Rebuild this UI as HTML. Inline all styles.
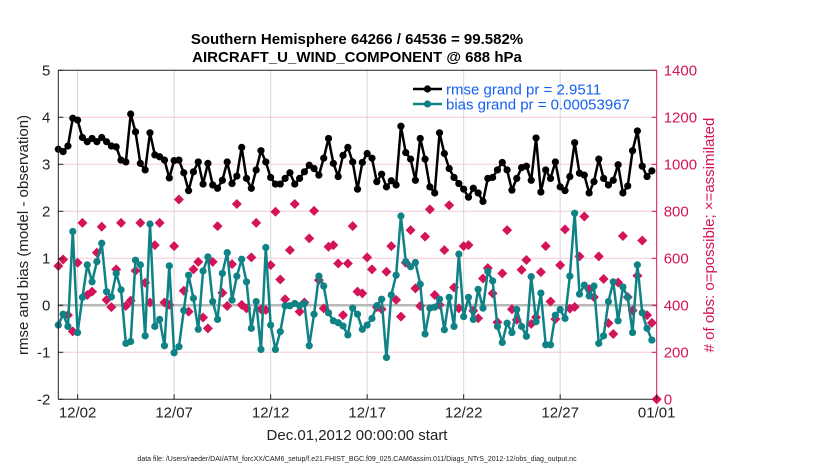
<!DOCTYPE html>
<html><head><meta charset="utf-8"><style>
body{margin:0;background:#fff;width:830px;height:470px;overflow:hidden;font-family:"Liberation Sans",Arial,sans-serif}
svg{display:block}
</style></head><body>
<svg id="chart" width="830" height="470" viewBox="0 0 830 470" xmlns="http://www.w3.org/2000/svg"></svg>
<script>
const rmse=[3.32,3.27,3.39,3.98,3.94,3.57,3.48,3.55,3.48,3.57,3.48,3.39,3.37,3.09,3.05,4.07,3.69,3.02,2.88,3.67,3.2,3.16,3.09,2.71,3.08,3.09,2.82,2.44,2.84,3.05,2.58,3.02,
2.56,2.49,2.66,3.05,2.59,2.75,3.36,2.70,2.49,2.88,3.29,3.05,2.72,2.58,2.58,2.70,2.82,2.58,2.70,2.84,2.98,2.91,2.77,3.13,3.55,3.02,2.74,3.19,3.36,3.05,2.47,
3.04,3.23,3.13,2.63,2.79,2.52,2.65,2.56,3.81,3.25,3.11,2.66,3.55,3.11,2.52,2.39,3.67,3.23,2.91,2.72,2.59,2.47,2.30,2.49,2.39,2.21,2.70,2.72,2.88,3.04,2.88,
2.45,2.70,2.93,2.96,2.66,3.56,2.41,2.88,2.70,3.05,2.52,2.44,2.74,3.46,2.81,2.77,2.39,2.63,3.11,2.70,2.56,2.66,2.99,2.39,2.54,3.29,3.71,2.96,2.74,2.86];
const bias=[-0.42,-0.19,-0.45,1.57,-0.58,0.17,0.86,0.50,0.93,1.32,0.29,0.18,0.68,0.33,-0.81,-0.77,0.96,0.86,-0.65,1.73,-0.45,-0.30,-0.86,0.84,-1.01,-0.88,-0.11,0.64,0.15,-0.51,0.73,1.03,
0.08,-0.30,0.68,1.12,0.11,0.62,0.98,0.50,-0.49,0.08,-0.94,1.23,-0.42,-0.94,-0.56,-0.01,-0.01,0.04,-0.01,0.04,-0.86,-0.19,0.62,0.41,-0.16,-0.33,-0.37,-0.44,-0.63,-0.06,-0.19,
-0.51,-0.42,-0.28,-0.01,0.13,-1.11,0.22,0.64,1.90,0.93,0.82,0.91,0.45,-0.61,-0.06,-0.04,0.13,-0.52,0.17,-0.45,1.09,-0.24,0.17,-0.30,0.34,-0.06,0.72,0.52,-0.45,-0.79,-0.38,
-0.58,-0.09,-0.45,-0.66,0.61,-0.35,0.26,-0.84,-0.84,-0.21,-0.09,-0.28,0.62,1.96,0.24,0.43,0.20,0.41,-0.81,-0.65,0.08,0.50,-0.33,0.39,0.17,-0.58,0.86,-0.16,-0.49,-0.74];
const nobs=[567,595,358,289,581,751,444,458,624,734,423,392,553,751,397,420,547,751,496,412,656,751,412,402,652,850,462,373,553,585,348,302,
585,737,453,397,575,831,402,387,604,751,383,380,571,798,510,426,635,831,373,412,685,802,507,387,649,656,578,358,578,737,458,
451,604,553,392,383,543,652,423,352,581,720,472,397,692,808,444,402,635,826,476,387,652,656,377,345,514,558,451,328,536,720,
383,338,551,593,321,349,541,652,416,341,571,723,386,393,608,778,469,435,608,512,324,278,497,695,435,378,526,676,358,325,0];
const xTickLabels=["12/02","12/07","12/12","12/17","12/22","12/27","01/01"];
const xTickDays=[1,6,11,16,21,26,31];
const yTicks=[-2,-1,0,1,2,3,4,5];
const y2Ticks=[0,200,400,600,800,1000,1200,1400];

const NS="http://www.w3.org/2000/svg";
const svg=document.getElementById('chart');
const L=58.3,R=656.7,T=70.3,B=399.3;
const xDay=d=>L+d*(R-L)/31;
const xIdx=i=>xDay(i*0.25);
const yL=v=>B-(v+2)*(B-T)/7;
const yR=v=>B-v*(B-T)/1400;
function el(tag,attrs,parent){const e=document.createElementNS(NS,tag);for(const k in attrs)e.setAttribute(k,attrs[k]);(parent||svg).appendChild(e);return e;}
const CR="#d4145a",TEAL="#0f8285",BLUE="#1560f0";

// grid
const grid=el('g',{});


yTicks.forEach(v=>{if(v>-2&&v<5&&v!==0)el('line',{x1:L,x2:R,y1:yL(v),y2:yL(v),stroke:"#f3c8d8","stroke-width":1},grid);});
xTickDays.forEach(d=>{if(d<31)el('line',{x1:xDay(d),x2:xDay(d),y1:T,y2:B,stroke:"#d8d8d8","stroke-width":1},grid);});
const zl=el('line',{x1:L,x2:R,y1:yL(0),y2:yL(0),stroke:"#b8b8b8","stroke-width":2.5});



// obs markers
const og=el('g',{fill:CR});


nobs.forEach((v,i)=>{const x=xIdx(i),y=yR(v);
 const m=el('path',{d:`M${x} ${y-5}L${x+5} ${y}L${x} ${y+5}L${x-5} ${y}Z`},og);
 
 
});

function series(arr,color,name){
 const g=el('g',{});
 
 
 el('polyline',{points:arr.map((v,i)=>xIdx(i)+","+yL(v)).join(" "),fill:"none",stroke:color,"stroke-width":2.5,"stroke-linejoin":"round"},g);
 arr.forEach((v,i)=>{const c=el('circle',{cx:xIdx(i),cy:yL(v),r:3.6,fill:color},g);
  
  });
}
series(bias,TEAL,'bias-series');
series(rmse,"#000",'rmse-series');

// axes
const ax=el('g',{});


el('line',{x1:L,x2:L,y1:T,y2:B,stroke:"#222","stroke-width":1},ax);
el('line',{x1:L,x2:R,y1:T,y2:T,stroke:"#222","stroke-width":1},ax);
el('line',{x1:L,x2:R,y1:B,y2:B,stroke:"#222","stroke-width":1},ax);
el('line',{x1:R,x2:R,y1:T,y2:B,stroke:CR,"stroke-width":1},ax);
yTicks.forEach(v=>{el('line',{x1:L,x2:L+5,y1:yL(v),y2:yL(v),stroke:"#222"},ax);
 const t=el('text',{x:L-8,y:yL(v)+5,"text-anchor":"end","font-size":15,fill:"#222"},ax);t.textContent=v;
 
 });
y2Ticks.forEach(v=>{el('line',{x1:R-5,x2:R,y1:yR(v),y2:yR(v),stroke:CR},ax);
 const t=el('text',{x:R+7,y:yR(v)+5,"font-size":15,fill:CR},ax);t.textContent=v;
 
 });
xTickDays.forEach((d,k)=>{el('line',{x1:xDay(d),x2:xDay(d),y1:B,y2:B-5,stroke:"#222"},ax);
 const t=el('text',{x:xDay(d),y:B+18,"text-anchor":"middle","font-size":15,fill:"#222"},ax);t.textContent=xTickLabels[k];
 
 });
</script>
<svg style="position:absolute;left:0;top:0" width="830" height="470" xmlns="http://www.w3.org/2000/svg" font-family="Liberation Sans, Arial, sans-serif">
 <text x="357" y="44" text-anchor="middle" font-size="15" font-weight="bold">Southern Hemisphere 64266 / 64536 = 99.582%</text>
 <text x="357" y="62" text-anchor="middle" font-size="15" font-weight="bold">AIRCRAFT_U_WIND_COMPONENT @ 688 hPa</text>
 <g>
  <g><line x1="413" x2="442" y1="89" y2="89" stroke="#000" stroke-width="2.5"/><circle cx="427.5" cy="89" r="3.6"/><text x="446" y="94.5" font-size="15" fill="#1560f0">rmse grand pr = 2.9511</text></g>
  <g><line x1="413" x2="442" y1="104" y2="104" stroke="#0f8285" stroke-width="2.5"/><circle cx="427.5" cy="104" r="3.6" fill="#0f8285"/><text x="446" y="109.5" font-size="15" fill="#1560f0">bias grand pr = 0.00053967</text></g>
 </g>
 <text x="357" y="440" text-anchor="middle" font-size="15" fill="#222">Dec.01,2012 00:00:00 start</text>
 <text transform="translate(28,235) rotate(-90)" text-anchor="middle" font-size="15" fill="#222">rmse and bias (model - observation)</text>
 <text transform="translate(714,235) rotate(-90)" text-anchor="middle" font-size="15" fill="#d4145a"># of obs: o=possible; ×=assimilated</text>
 <text x="357" y="461" text-anchor="middle" font-size="7" fill="#222">data file: /Users/raeder/DAI/ATM_forcXX/CAM6_setup/f.e21.FHIST_BGC.f09_025.CAM6assim.011/Diags_NTrS_2012-12/obs_diag_output.nc</text>
</svg>
<style>body{position:relative}</style>
</body></html>
